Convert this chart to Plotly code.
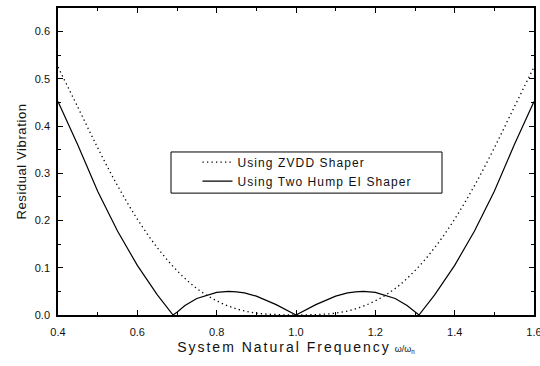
import plotly.graph_objects as go

# Frequency ratio samples
omega = [0.40, 0.45, 0.50, 0.55, 0.60, 0.65, 0.69, 0.70, 0.72, 0.75, 0.80, 0.83, 0.85,
         0.87, 0.90, 0.95, 1.00, 1.05, 1.10, 1.13, 1.15, 1.17, 1.20, 1.25, 1.28, 1.30,
         1.31, 1.35, 1.40, 1.45, 1.50, 1.55, 1.60]

# Two-hump EI shaper residual vibration
ei_vals = [0.452, 0.360, 0.262, 0.178, 0.105, 0.043, 0.000, 0.006, 0.020, 0.035, 0.048, 0.050, 0.049,
           0.047, 0.040, 0.022, 0.000, 0.022, 0.040, 0.047, 0.049, 0.050, 0.048, 0.035, 0.020, 0.006,
           0.000, 0.043, 0.105, 0.178, 0.262, 0.360, 0.452]

# ZVDD shaper residual vibration
zvdd_omega = [0.40, 0.45, 0.50, 0.55, 0.60, 0.65, 0.70, 0.75, 0.80, 0.85, 0.90, 0.95, 1.00,
              1.05, 1.10, 1.15, 1.20, 1.25, 1.30, 1.35, 1.40, 1.45, 1.50, 1.55, 1.60]
zvdd_vals = [0.525, 0.440, 0.354, 0.274, 0.203, 0.143, 0.094, 0.056, 0.030, 0.013, 0.004, 0.001, 0.000,
             0.001, 0.004, 0.013, 0.030, 0.056, 0.094, 0.143, 0.203, 0.274, 0.354, 0.440, 0.525]

x_ticks = [0.4, 0.6, 0.8, 1.0, 1.2, 1.4, 1.6]
y_ticks = [0.0, 0.1, 0.2, 0.3, 0.4, 0.5, 0.6]

FONT = "Liberation Sans, Arial, sans-serif"
LS = "letter-spacing:1.1px"

fig = go.Figure()
fig.add_trace(go.Scatter(
    x=zvdd_omega, y=zvdd_vals, mode="lines", line_shape="spline",
    line=dict(color="black", width=1.3, dash="1.3px,3.2px"),
    name=f"<span style='{LS}'>Using ZVDD Shaper</span>"))
fig.add_trace(go.Scatter(
    x=omega, y=ei_vals, mode="lines",
    line=dict(color="black", width=1.2),
    name=f"<span style='{LS}'>Using Two Hump EI Shaper</span>"))

axis_common = dict(
    showline=True, linecolor="black", linewidth=1.5, mirror="ticks",
    ticks="inside", ticklen=5, tickwidth=1, tickcolor="black",
    showgrid=False, zeroline=False, automargin=False,
    ticklabeloverflow="allow",
    tickfont=dict(family=FONT, size=11, color="#111"),
)

fig.update_xaxes(
    range=[0.4, 1.6], tickvals=x_ticks, ticktext=[f"{v:.1f}" for v in x_ticks],
    ticklabelstandoff=6,
    minor=dict(ticks="inside", ticklen=3, tickcolor="black", dtick=0.1, tick0=0.4, showgrid=False),
    title=dict(
        text="<span style='letter-spacing:2px'>System Natural Frequency</span> "
             "<span style='font-size:9px'>ω/ω<sub>n</sub></span>",
        font=dict(family=FONT, size=14, color="#111"), standoff=5),
    **axis_common)
fig.update_yaxes(
    range=[0, 0.65], tickvals=y_ticks, ticktext=[f"{v:.1f}" for v in y_ticks],
    ticklabelstandoff=4,
    minor=dict(ticks="inside", ticklen=3, tickcolor="black", dtick=0.05, tick0=0, showgrid=False),
    title=dict(text="<span style='letter-spacing:0.6px'>Residual Vibration</span>",
               font=dict(family=FONT, size=13, color="#111"), standoff=5),
    **axis_common)

# legend frame (the reference legend box is wider than its entries)
fig.add_shape(type="rect", xref="paper", yref="paper",
              x0=0.2374, x1=0.8067, y0=0.397, y1=0.531,
              line=dict(color="black", width=1), fillcolor="rgba(0,0,0,0)", layer="above")

fig.update_layout(
    width=540, height=366,
    margin=dict(l=58, r=6, t=8, b=51),
    paper_bgcolor="white", plot_bgcolor="white",
    showlegend=True,
    legend=dict(
        x=0.293, y=0.545, xanchor="left", yanchor="top",
        bgcolor="rgba(0,0,0,0)", borderwidth=0,
        font=dict(family=FONT, size=12, color="#111"),
        tracegroupgap=0,
    ),
)

fig.write_html(
    "out.html",
    config={"displayModeBar": False},
    post_script="document.body.style.margin='0';document.body.style.overflow='hidden';",
)
